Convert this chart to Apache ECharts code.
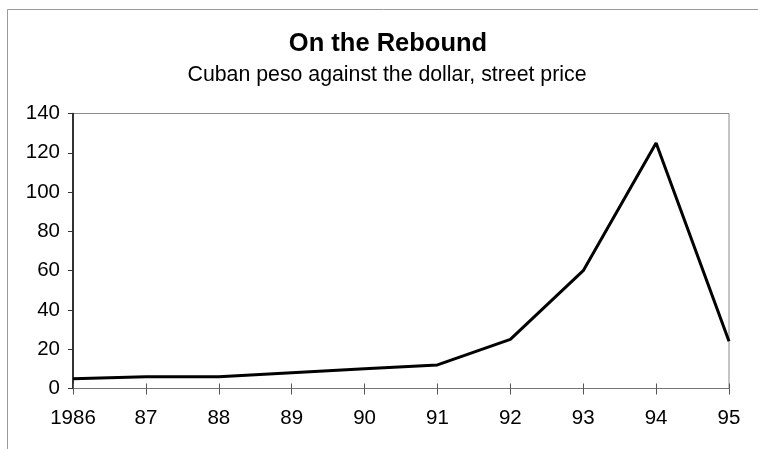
<!DOCTYPE html>
<html>
<head>
<meta charset="utf-8">
<script src="https://cdn.jsdelivr.net/npm/echarts@6/dist/echarts.min.js"></script>
<style>
  html, body { margin: 0; padding: 0; background: #fff; }
  #chart { width: 758px; height: 449px; }
</style>
</head>
<body>
<div id="chart"></div>
<script>
// Street price of the Cuban peso against the US dollar, 1986-1995
const years = ['1986', '87', '88', '89', '90', '91', '92', '93', '94', '95'];
const pesoPerDollar = [5, 6, 6, 8, 10, 12, 25, 60, 125, 24];
const yTicks = { min: 0, max: 140, interval: 20 };

const FONT = '"Liberation Sans", Arial, sans-serif';

const chart = echarts.init(document.getElementById('chart'), null, { renderer: 'canvas' });

chart.setOption({
  animation: false,
  backgroundColor: '#fff',
  title: [
    {
      text: 'On the Rebound',
      left: 383,
      top: 26,
      textAlign: 'center',
      textStyle: { fontFamily: FONT, fontSize: 25.5, fontWeight: 'bold', color: '#000' }
    },
    {
      text: 'Cuban peso against the dollar, street price',
      left: 382,
      top: 60,
      textAlign: 'center',
      textStyle: { fontFamily: FONT, fontSize: 21.3, fontWeight: 'normal', color: '#000' }
    }
  ],
  graphic: [
    {
      // page frame along the top and left edges
      type: 'rect',
      silent: true,
      shape: { x: 7.5, y: 9.5, width: 800, height: 500 },
      style: { fill: 'none', stroke: '#9a9a9a', lineWidth: 1 }
    }
  ],
  grid: {
    left: 73, right: 29, top: 113.5, bottom: 60.5,
    show: true,
    borderColor: '#8a8a8a',
    borderWidth: 1
  },
  xAxis: [
    {
      type: 'category',
      data: years,
      boundaryGap: false,
      axisLine: { show: true, lineStyle: { color: '#777', width: 1 } },
      axisTick: { show: true, length: 6, lineStyle: { color: '#555' } },
      axisLabel: { margin: 19, fontFamily: FONT, fontSize: 20.5, color: '#000' },
      splitLine: { show: false }
    },
    {
      // second pass of the same axis so the ticks cross the line
      type: 'category',
      data: years,
      boundaryGap: false,
      position: 'bottom',
      axisLine: { show: false },
      axisTick: { show: true, inside: true, length: 5, lineStyle: { color: '#555' } },
      axisLabel: { show: false },
      splitLine: { show: false }
    }
  ],
  yAxis: {
    type: 'value',
    min: yTicks.min,
    max: yTicks.max,
    interval: yTicks.interval,
    axisLine: { show: true, lineStyle: { color: '#000', width: 1.5 } },
    axisTick: { show: true, length: 5, lineStyle: { color: '#333' } },
    axisLabel: { margin: 13, fontFamily: FONT, fontSize: 20.5, color: '#000' },
    splitLine: { show: false }
  },
  series: [
    {
      type: 'line',
      data: pesoPerDollar,
      symbol: 'none',
      lineStyle: { color: '#000', width: 3 },
      z: 5
    }
  ]
});
</script>
</body>
</html>
